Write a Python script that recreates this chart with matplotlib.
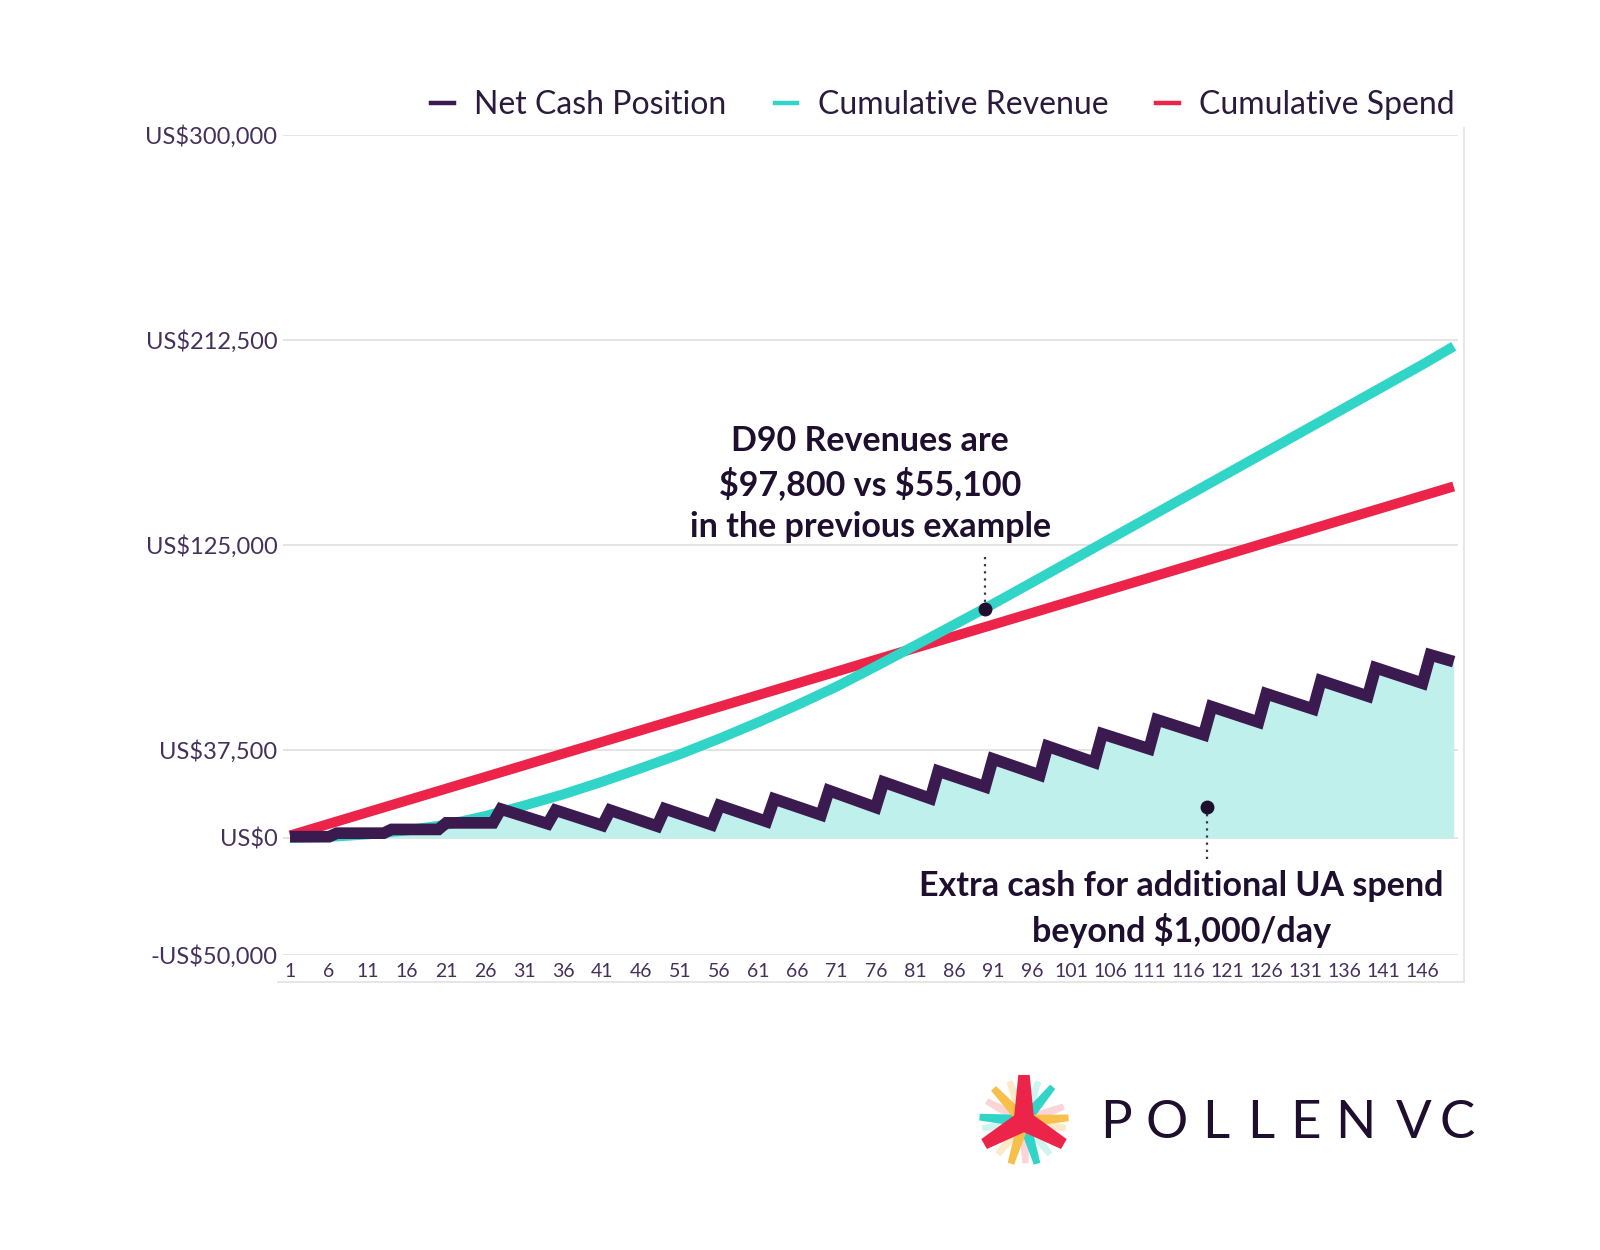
import matplotlib
matplotlib.use("Agg")
import matplotlib.pyplot as plt
from matplotlib.lines import Line2D
from matplotlib.patches import Polygon
import numpy as np

plt.rcParams['font.family'] = ['Lato', 'DejaVu Sans']

# ---------------- data ----------------
spend_days = [1, 150]
spend_values = [1000, 150000]

revenue_days = [1, 6, 11, 16, 21, 26, 31, 36, 41, 46, 51, 56, 61, 66, 71, 76, 81,
                86, 91, 96, 101, 106, 111, 116, 121, 126, 131, 136, 141, 146, 150]
revenue_values = [0, 400, 1500, 3200, 5600, 9300, 13800, 18600, 24000, 29800, 35800,
                  42400, 49400, 56800, 64600, 73200, 82000, 90900, 99800, 109000,
                  118300, 127600, 136900, 146200, 155500, 164800, 174100, 183400,
                  192700, 202000, 209800]

net_days = [1, 6, 7, 13, 14, 20, 21, 27, 28, 34, 35, 41, 42, 48, 49, 55, 56, 62, 63,
            69, 70, 76, 77, 83, 84, 90, 91, 97, 98, 104, 105, 111, 112, 118, 119, 125,
            126, 132, 133, 139, 140, 146, 147, 150]
net_values = [500, 500, 2000, 2000, 3600, 3600, 6400, 6400, 12300, 6000, 11800, 5300,
              11800, 5000, 12400, 5600, 13800, 7000, 16600, 9800, 20200, 13000, 23800,
              16800, 28500, 21800, 33700, 26800, 39100, 32200, 44400, 38000, 50400,
              44000, 56000, 49400, 61500, 55000, 67100, 60500, 72600, 66000, 78100, 75200]

x_ticks = list(range(1, 147, 5))
y_ticks = [-50000, 0, 37500, 125000, 212500, 300000]
y_tick_labels = ['-US$50,000', 'US$0', 'US$37,500', 'US$125,000', 'US$212,500', 'US$300,000']

series_labels = ['Net Cash Position', 'Cumulative Revenue', 'Cumulative Spend']

d90_day, d90_value = 90, 97800
d90_text = 'D90 Revenues are\n\\$97,800 vs \\$55,100\nin the previous example'
extra_day, extra_value = 118.4, 13200
extra_text = 'Extra cash for additional UA spend\nbeyond \\$1,000/day'

# ---------------- style ----------------
C_NET = '#3B1A4F'
C_REV = '#30D5C8'
C_SPEND = '#EC2449'
C_FILL = '#BFF0EB'
C_TEXT = '#1E0F2E'
C_TICK = '#45305C'
C_GRID = '#E4E4E4'

W, H = 1600, 1250
fig = plt.figure(figsize=(16, 12.5), dpi=100)
fig.patch.set_facecolor('white')

def fx(px):
    return px / W

def fy(py):
    return 1 - py / H

ax = fig.add_axes([fx(283), fy(955), fx(1458) - fx(283), fy(135) - fy(955)])
ax.set_xlim(0.1, 150.55)
ax.set_ylim(-50000, 300000)

for s in ax.spines.values():
    s.set_visible(False)

ax.set_yticks(y_ticks)
ax.set_yticklabels(y_tick_labels)
ax.set_xticks(x_ticks)
ax.set_xticklabels([str(t) for t in x_ticks])
ax.tick_params(axis='y', length=0, pad=4, labelsize=17, labelcolor=C_TICK)
ax.tick_params(axis='x', length=0, pad=6, labelsize=14, labelcolor=C_TICK)
ax.yaxis.grid(True, color=C_GRID, lw=1.4)
ax.xaxis.grid(False)
ax.set_axisbelow(True)

# fill under net cash
ax.fill_between(net_days, net_values, 0, color=C_FILL, lw=0, zorder=1)

ax.plot(spend_days, spend_values, color=C_SPEND, lw=7.2, solid_capstyle='butt', zorder=3)
ax.plot(revenue_days, revenue_values, color=C_REV, lw=7.2, solid_capstyle='butt', zorder=4)
ax.plot(net_days, net_values, color=C_NET, lw=8.4, solid_joinstyle='miter',
        solid_capstyle='butt', zorder=5)

# annotations
ax.plot([d90_day, d90_day], [d90_value, 120400], color='#3A3340', lw=1.6,
        ls=(0, (1, 2.2)), zorder=6)
ax.plot([d90_day], [d90_value], 'o', color=C_TEXT, ms=9, zorder=7)
ax.text(75.3, 151000, d90_text, ha='center', va='center', fontsize=24.5,
        fontweight='bold', color=C_TEXT, linespacing=1.38, zorder=8)

ax.plot([extra_day, extra_day], [extra_value, -9800], color='#3A3340', lw=1.6,
        ls=(0, (1, 2.2)), zorder=6)
ax.plot([extra_day], [extra_value], 'o', color=C_TEXT, ms=9, zorder=7)
ax.text(1 + (1181 - 290) / 7.81, -30500, extra_text, ha='center', va='center',
        fontsize=24.5, fontweight='bold', color=C_TEXT, linespacing=1.38, zorder=8)

# frame lines (right and bottom)
fig.add_artist(Line2D([fx(1464), fx(1464)], [fy(128), fy(982)], color='#E6E6E6', lw=1.4))
fig.add_artist(Line2D([fx(278), fx(1464)], [fy(982), fy(982)], color='#E6E6E6', lw=1.4))

# legend
handles = [Line2D([], [], color=C_NET, lw=3.2),
           Line2D([], [], color=C_REV, lw=3.2),
           Line2D([], [], color=C_SPEND, lw=3.2)]
leg = fig.legend(handles, series_labels, ncol=3, loc='center right',
                 bbox_to_anchor=(fx(1455), fy(105)), frameon=False, fontsize=23,
                 handlelength=0.7, handletextpad=0.65, columnspacing=1.5,
                 borderpad=0, borderaxespad=0)
for t in leg.get_texts():
    t.set_color('#2A1A3C')

# logo
lax = fig.add_axes([fx(977), fy(1168), fx(1071) - fx(977), fy(1074) - fy(1168)])
lax.set_xlim(-1, 1)
lax.set_ylim(-1, 1)
lax.set_aspect('equal')
lax.axis('off')

def ray(ang, length, width, color, z):
    a = np.deg2rad(ang)
    d = np.array([np.cos(a), np.sin(a)])
    n = np.array([-d[1], d[0]])
    pts = [n * width, d * length + n * width * 0.55, d * length - n * width * 0.55, -n * width]
    lax.add_patch(Polygon(pts, closed=True, color=color, lw=0, zorder=z))

pale = ['#FAD4D6', '#CFF3EF', '#FCE9C8', '#FAD4D6', '#CFF3EF', '#FCE9C8',
        '#FAD4D6', '#CFF3EF', '#FCE9C8']
for i, ang in enumerate([20, 70, 110, 152, 190, 232, 272, 308, 350]):
    ray(ang, 0.9, 0.12, pale[i], 1)
for ang in [175, 50, 287]:
    ray(ang, 0.95, 0.13, C_REV, 2)
for ang in [133, 4, 253]:
    ray(ang, 0.95, 0.13, '#F7C04A', 2)
for ang in [90, 210, 330]:
    ray(ang, 0.98, 0.22, C_SPEND, 3)

letters = ['P', 'O', 'L', 'L', 'E', 'N', 'V', 'C']
letter_x = [1100, 1146, 1202, 1247, 1290, 1335, 1396, 1440]
for ch, px in zip(letters, letter_x):
    fig.text(fx(px), fy(1124), ch, ha='left', va='center', fontsize=38,
             fontweight='normal', color=C_TEXT)

fig.savefig('out.png', dpi=100, facecolor='white')
